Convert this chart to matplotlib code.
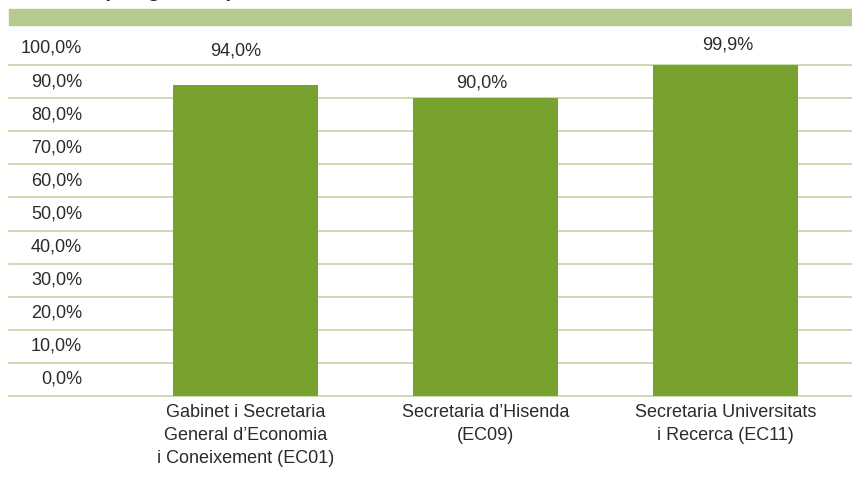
import matplotlib.pyplot as plt
import matplotlib.patches as patches
import matplotlib.transforms as mtransforms

plt.rcParams['font.family'] = ['Liberation Sans', 'DejaVu Sans']

categories = ["Gabinet i Secretaria\nGeneral d\u2019Economia\ni Coneixement (EC01)",
              "Secretaria d\u2019Hisenda\n(EC09)",
              "Secretaria Universitats\ni Recerca (EC11)"]
values = [94.0, 90.0, 99.9]
value_labels = ["94,0%", "90,0%", "99,9%"]
ytick_values = [0, 10, 20, 30, 40, 50, 60, 70, 80, 90, 100]
ytick_labels = ["0,0%", "10,0%", "20,0%", "30,0%", "40,0%", "50,0%",
                "60,0%", "70,0%", "80,0%", "90,0%", "100,0%"]

W, H = 853, 479
fig = plt.figure(figsize=(W / 100, H / 100), dpi=100)

# axes placed in pixels: x 9..853, y 65..396
ax = fig.add_axes([9 / W, 1 - 396 / H, (853 - 9) / W, (396 - 65) / H])

bar_color = '#79a130'
grid_color = '#c6d9ab'
text_color = '#2b2b2b'

x = list(range(len(values)))
ax.bar(x, values, width=0.604, color=bar_color, zorder=3)
ax.set_xlim(-0.985, 2.531)
ax.set_ylim(0, 100)

for v in ytick_values:
    ax.axhline(v, color=grid_color, lw=1.3, zorder=1, clip_on=False)

# y labels sit in the middle of each band, above their line
yt = mtransforms.blended_transform_factory(ax.transAxes, ax.transData)
for v, lab in zip(ytick_values, ytick_labels):
    ax.text(0.0865, v + 5, lab, transform=yt, ha='right', va='center',
            fontsize=13, color=text_color, clip_on=False)

# value labels above bars
label_offsets = [10.2, 4.6, 6.1]
label_dx = [-0.042, -0.017, 0.008]
for xi, v, lab, off, dx in zip(x, values, value_labels, label_offsets, label_dx):
    ax.text(xi + dx, v + off, lab, ha='center', va='center', fontsize=13,
            color=text_color, clip_on=False)

ax.set_xticks(x)
ax.set_xticklabels(categories, fontsize=13, color=text_color, linespacing=1.45)
ax.tick_params(axis='x', length=0, pad=6)
ax.set_yticks([])
for s in ax.spines.values():
    s.set_visible(False)

# light green band at the top and cut-off title
fig.patches.append(patches.Rectangle((9 / W, 1 - 25 / H), (853 - 9) / W, 16 / H,
                                     transform=fig.transFigure, color='#b5cb8e'))
fig.text(103 / W, 1 + 3 / H, "(obligacions)", fontsize=15, fontweight='bold',
         color=text_color, va='baseline', ha='left')

fig.savefig('out.png', dpi=100)
